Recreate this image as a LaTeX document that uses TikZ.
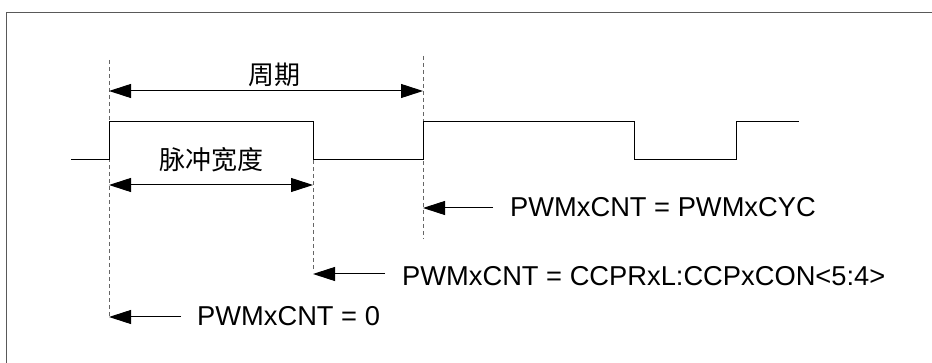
\documentclass[tikz,border=0pt]{standalone}
\usepackage{fontspec}
\setmainfont{Liberation Sans}
\newfontfamily\cjk{Noto Sans CJK SC}
\usetikzlibrary{arrows.meta}
\begin{document}
\begin{tikzpicture}[x=1pt,y=-1pt,
  sig/.style={line width=1pt,black},
  guide/.style={line width=0.9pt,gray!80!black,dash pattern=on 4pt off 3pt},
  dim/.style={line width=1pt,{Triangle[length=22pt,width=14pt]}-{Triangle[length=22pt,width=14pt]}},
  ptr/.style={line width=1pt,-{Triangle[length=22pt,width=14pt]}},
  lbl/.style={inner sep=0pt,font=\fontsize{27.3}{30}\selectfont},
  cjklbl/.style={inner sep=0pt,font=\cjk\fontsize{26}{30}\selectfont},
  frame/.style={line width=1.6pt,gray!70!black}]
\useasboundingbox (0,0) rectangle (932,363);
% frame
\draw[frame] (6.5,363) -- (6.5,12.7) -- (932,12.7);
% signal coordinates
\coordinate (s0) at (71,160);
\coordinate (s1) at (109,160);
\coordinate (s2) at (109,122);
\coordinate (s3) at (313,122);
\coordinate (s4) at (313,160);
\coordinate (s5) at (423,160);
\coordinate (s6) at (423,122);
\coordinate (s7) at (634,122);
\coordinate (s8) at (634,160);
\coordinate (s9) at (736,160);
\coordinate (s10) at (736,122);
\coordinate (s11) at (799,122);
% guide line ends
\coordinate (gA1) at (109,60);
\coordinate (gA2) at (109,318);
\coordinate (gB1) at (313,160);
\coordinate (gB2) at (313,269);
\coordinate (gC1) at (423,56);
\coordinate (gC2) at (423,239);
% guides
\draw[guide] (gA1) -- (gA2);
\draw[guide] (gB1) -- (gB2);
\draw[guide] (gC1) -- (gC2);
% signal
\draw[sig] (s0) -- (s1) -- (s2) -- (s3) -- (s4) -- (s5) -- (s6) -- (s7) -- (s8) -- (s9) -- (s10) -- (s11);
% period dimension
\coordinate (pL) at (109,91);
\coordinate (pR) at (423,91);
\draw[dim] (pL) -- (pR);
\node[cjklbl] (period) at (274,74.5) {周期};
% pulse width dimension
\coordinate (wL) at (109,185);
\coordinate (wR) at (313,185);
\draw[dim] (wL) -- (wR);
\node[cjklbl] (width) at (211,160) {脉冲宽度};
% pointers
\node[lbl,anchor=base west] (tcyc) at (510,216.7) {PWMxCNT = PWMxCYC};
\coordinate (aC) at (493,208);
\coordinate (hC) at (423,208);
\draw[ptr] (aC) -- (hC);
\node[lbl,anchor=base west] (tccp) at (402,285.7) {PWMxCNT = CCPRxL:CCPxCON<5:4>};
\coordinate (aB) at (385,274);
\coordinate (hB) at (313,274);
\draw[ptr] (aB) -- (hB);
\node[lbl,anchor=base west] (tzero) at (197,326) {PWMxCNT = 0};
\coordinate (aA) at (181,317);
\coordinate (hA) at (109,317);
\draw[ptr] (aA) -- (hA);
\end{tikzpicture}
\end{document}
